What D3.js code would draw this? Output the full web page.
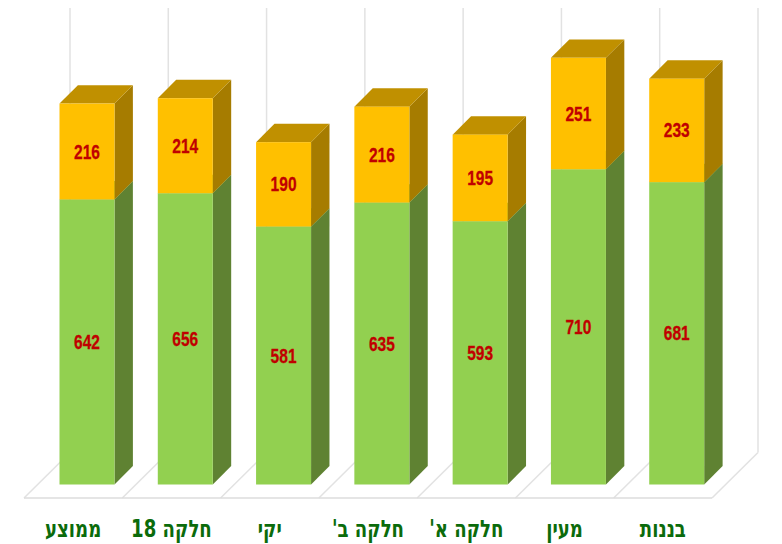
<!DOCTYPE html>
<html lang="he">
<head>
<meta charset="utf-8">
<script src="https://cdn.jsdelivr.net/npm/d3@7/dist/d3.min.js"></script>
<style>
html,body{margin:0;padding:0;background:#fff;}
svg{display:block;}
</style>
</head>
<body>
<svg id="chart" width="782" height="544"></svg>
<script>
const categories = ["ממוצע", "חלקה 18", "יקי", "חלקה ב'", "חלקה א'", "מעין", "בננות"];
const greenValues = [642, 656, 581, 635, 593, 710, 681];
const orangeValues = [216, 214, 190, 216, 195, 251, 233];

const svg = d3.select("#chart");
const depth = 18.4, barW = 55, barOff = 35.5;
const baseY = 484.5, floorFront = 498;

const x = d3.scaleBand().domain(categories).range([24, 712]).padding(0);
const y = d3.scaleLinear().domain([0, 1000]).range([baseY, baseY - 444]);

const gridColor = "#e2e2e2";
const wallX = d3.range(categories.length + 1).map(i => 24 + i * x.step() + 46);
const grid = svg.append("g");
wallX.forEach((wx, i) => {
  grid.append("line").attr("x1", wx).attr("x2", wx).attr("y1", 8).attr("y2", 452.5)
    .attr("stroke", gridColor).attr("stroke-width", 1.5);
  grid.append("line").attr("x1", wx).attr("x2", wx - 46).attr("y1", 452.5).attr("y2", floorFront)
    .attr("stroke", gridColor).attr("stroke-width", 1.5);
});
grid.append("line").attr("x1", 24).attr("x2", 712).attr("y1", floorFront).attr("y2", floorFront)
  .attr("stroke", "#dcdcdc").attr("stroke-width", 1.5);

function drawSegment(g, bx, y0, y1, c) {
  g.append("path").attr("fill", c.side)
    .attr("d", `M${bx + barW},${y0}L${bx + barW + depth},${y0 - depth}L${bx + barW + depth},${y1 - depth}L${bx + barW},${y1}Z`);
  g.append("path").attr("fill", c.top)
    .attr("d", `M${bx},${y1}L${bx + depth},${y1 - depth}L${bx + barW + depth},${y1 - depth}L${bx + barW},${y1}Z`);
  g.append("rect").attr("x", bx).attr("y", y1).attr("width", barW).attr("height", y0 - y1).attr("fill", c.front);
}

const greenC = { front: "#92D050", side: "#5F8232", top: "#76A83F" };
const orangeC = { front: "#FFC000", side: "#A67C00", top: "#C09000" };

const bars = svg.append("g");
categories.forEach((cat, i) => {
  const bx = x(cat) + barOff;
  const g = bars.append("g");
  const yG = y(greenValues[i]);
  const yT = y(greenValues[i] + orangeValues[i]);
  drawSegment(g, bx, baseY, yG, greenC);
  drawSegment(g, bx, yG, yT, orangeC);
});

const labels = svg.append("g").attr("font-family", "'Liberation Sans',sans-serif").attr("font-size", 21)
  .attr("font-weight", "bold").attr("fill", "#C00000").attr("stroke", "#C00000").attr("stroke-width", 0.3)
  .attr("text-anchor", "middle");
function valueLabel(cx, cy, v) {
  labels.append("text")
    .attr("transform", `translate(${cx},${cy + 7}) scale(0.74,1)`)
    .text(v);
}
categories.forEach((cat, i) => {
  const cx = x(cat) + barOff + barW / 2;
  const yG = y(greenValues[i]);
  const yT = y(greenValues[i] + orangeValues[i]);
  valueLabel(cx, (baseY + yG) / 2, greenValues[i]);
  valueLabel(cx, (yG + yT) / 2, orangeValues[i]);
});

const axis = d3.axisBottom(x).tickSize(0).tickPadding(0);
const ax = svg.append("g").attr("transform", "translate(0,537)").call(axis);
ax.select(".domain").remove();
ax.selectAll("text")
  .attr("font-family", "'DejaVu Sans Condensed','DejaVu Sans',sans-serif")
  .attr("font-size", 24).attr("font-weight", "bold").attr("fill", "#0B6B0B")
  .attr("direction", "rtl").attr("dy", 0).attr("y", 0)
  .attr("transform", "scale(0.84,1)");
ax.selectAll(".tick").each(function () {
  const t = d3.select(this);
  const m = /translate\(([-\d.]+),/.exec(t.attr("transform"));
  t.attr("transform", `translate(${+m[1]},0)`);
});
</script>
</body>
</html>
